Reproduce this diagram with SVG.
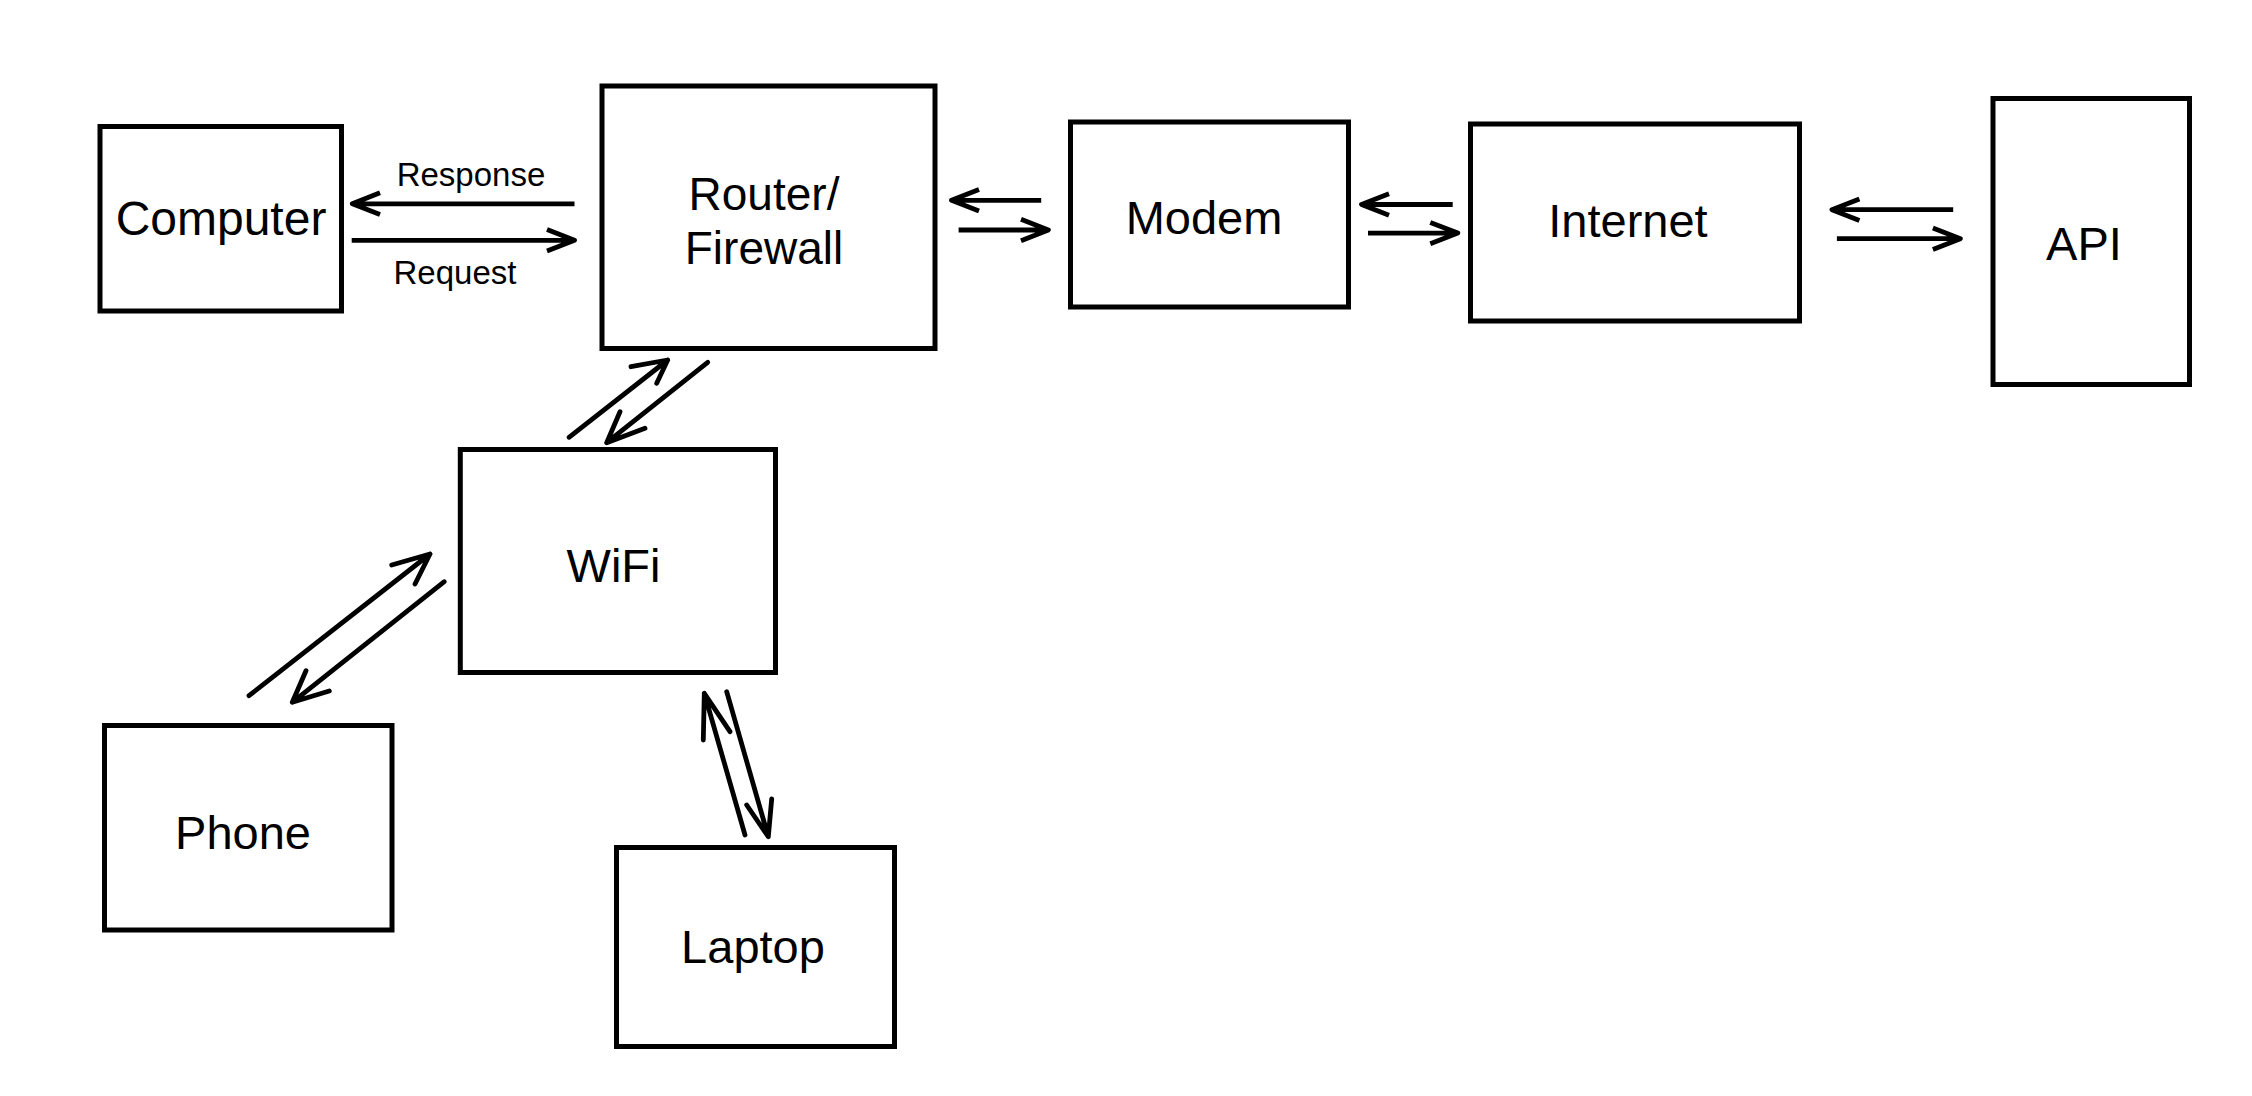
<svg xmlns="http://www.w3.org/2000/svg" width="2252" height="1096" viewBox="0 0 2252 1096">
<style>
.box{fill:#fff;stroke:#000;stroke-width:5}
.lbl{font-family:"Liberation Sans",Arial,sans-serif;font-size:47px;fill:#000;text-anchor:middle}
.sm{font-family:"Liberation Sans",Arial,sans-serif;font-size:33px;fill:#000;text-anchor:middle}
.h{fill:none;stroke:#000;stroke-width:4.8;stroke-linejoin:round;stroke-linecap:butt}
.d{fill:none;stroke:#000;stroke-width:4.8;stroke-linejoin:round;stroke-linecap:round}
</style>
<rect width="2252" height="1096" fill="#fff"/>
<g id="computer"><rect class="box" x="100" y="126.5" width="241.5" height="184.5"/><text class="lbl" x="221" y="235" style="font-size:48px">Computer</text></g>
<g id="router"><rect class="box" x="602" y="86" width="333" height="262.5"/><text class="lbl" x="764" y="210" style="font-size:46px">Router/</text><text class="lbl" x="764" y="264" style="font-size:46px">Firewall</text></g>
<g id="modem"><rect class="box" x="1070.5" y="122" width="278" height="185"/><text class="lbl" x="1204" y="234">Modem</text></g>
<g id="internet"><rect class="box" x="1470.5" y="124" width="329" height="197"/><text class="lbl" x="1628" y="237">Internet</text></g>
<g id="api"><rect class="box" x="1993" y="98.5" width="196.5" height="286"/><text class="lbl" x="2084" y="260">API</text></g>
<g id="wifi"><rect class="box" x="460.3" y="449.5" width="315.2" height="223"/><text class="lbl" x="613.5" y="581.5">WiFi</text></g>
<g id="phone"><rect class="box" x="104.5" y="725.5" width="287.5" height="204.5"/><text class="lbl" x="243" y="849">Phone</text></g>
<g id="laptop"><rect class="box" x="616.5" y="847.5" width="278" height="199"/><text class="lbl" x="753" y="962.5">Laptop</text></g>
<g id="connectors">
<path class="h" d="M574.5,203.8 L352.3,203.8 M380,192.7 L352.3,203.8 L380,214.5"/>
<text class="sm" x="471" y="185.5">Response</text>
<path class="h" d="M351.7,240.3 L574.5,240.3 M547,229.5 L574.5,240.3 L547,251"/>
<text class="sm" x="455" y="283.5">Request</text>
<path class="h" d="M1041.2,200.3 L951.5,200.3 M979,189.5 L951.5,200.3 L979,211"/>
<path class="h" d="M958.6,230 L1048.4,230 M1021,219.3 L1048.4,230 L1021,240.7"/>
<path class="h" d="M1452.7,204.5 L1361.5,204.5 M1389,193.8 L1361.5,204.5 L1389,215.2"/>
<path class="h" d="M1368,233.1 L1457.8,233.1 M1430.3,222.4 L1457.8,233.1 L1430.3,243.8"/>
<path class="h" d="M1953.2,209.7 L1831.9,209.7 M1859.4,199 L1831.9,209.7 L1859.4,220.4"/>
<path class="h" d="M1836.9,238.7 L1960.4,238.7 M1932.9,228 L1960.4,238.7 L1932.9,249.4"/>
<path class="d" d="M569,437.3 L667.7,360 M631,366.7 L667.7,360 L656.7,383.3"/>
<path class="d" d="M707.7,362.3 L606.7,442.7 M620,411.7 L606.7,442.7 L645,428.3"/>
<path class="d" d="M249,695.7 L430,554 M391.7,565 L430,554 L415,584"/>
<path class="d" d="M444.3,581.7 L292.3,702.3 M306,670.7 L292.3,702.3 L329.3,691"/>
<path class="d" d="M745,835 L704.3,693.3 M703.3,740 L704.3,693.3 L730,731.7"/>
<path class="d" d="M726.7,691.7 L768.3,836.7 M771.7,799 L768.3,836.7 L746.7,805"/>
</g>
</svg>
